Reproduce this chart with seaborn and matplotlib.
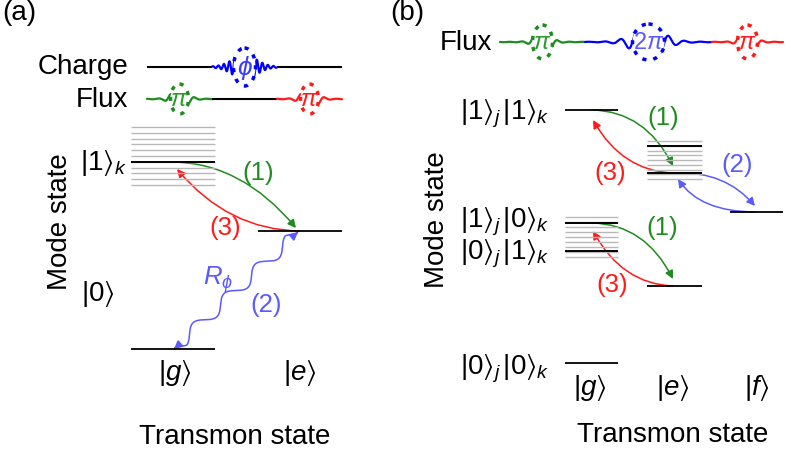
import numpy as np
import matplotlib
matplotlib.use('Agg')
import matplotlib.pyplot as plt
import seaborn as sns
from matplotlib.patches import FancyArrowPatch, Ellipse
from matplotlib.path import Path

sns.set_theme(style='white')
plt.rcParams['font.family'] = ['Liberation Sans', 'DejaVu Sans']
plt.rcParams['text.color'] = 'black'
plt.rcParams['mathtext.fontset'] = 'custom'
plt.rcParams['mathtext.rm'] = 'Liberation Sans'
plt.rcParams['mathtext.it'] = 'Liberation Sans:italic'
plt.rcParams['mathtext.fallback'] = 'stixsans'

# ---------------- content ----------------
panel_labels = ['(a)', '(b)']
axis_mode = 'Mode state'
axis_transmon = 'Transmon state'
a_drive_lines = ['Charge', 'Flux']
b_drive_line = 'Flux'
a_pulse_symbols = [r'$\phi$', r'$\pi$', r'$\pi$']
b_pulse_symbols = [r'$\pi$', r'$2\pi$', r'$\pi$']
a_transmon_states = [r'$|g\rangle$', r'$|e\rangle$']
a_mode_states = [r'$|1\rangle_k$', r'$|0\rangle$']
b_transmon_states = [r'$|g\rangle$', r'$|e\rangle$', r'$|f\rangle$']
b_mode_states = [r'$|1\rangle_j\,|1\rangle_k$', r'$|1\rangle_j\,|0\rangle_k$',
                 r'$|0\rangle_j\,|1\rangle_k$', r'$|0\rangle_j\,|0\rangle_k$']
step_labels = ['(1)', '(2)', '(3)']
rate_label = r'$R_\phi$'

GREEN = '#1e8c1e'
RED = '#ff1a1a'
BLUE = '#0000ff'
LBLUE = '#5a5aff'
GRAY = '#b8b8b8'

fig = plt.figure(figsize=(7.93, 4.56), dpi=100)
ax = fig.add_axes([0, 0, 1, 1])
ax.set_xlim(0, 793)
ax.set_ylim(456, 0)
ax.axis('off')

FS = 20
FSN = 18.5


def level(x0, x1, y, c='black', lw=1.3):
    ax.plot([x0, x1], [y, y], color=c, lw=lw, solid_capstyle='butt')


def manifold(x0, x1, ytop, ybot, n, blacks):
    for y in np.linspace(ytop, ybot, n):
        level(x0, x1, y, GRAY, 1.0)
    for y in blacks:
        level(x0, x1, y, 'black', 1.4)


def curve_arrow(p0, c, p1, color, style='-|>'):
    path = Path([p0, c, p1], [Path.MOVETO, Path.CURVE3, Path.CURVE3])
    ar = FancyArrowPatch(path=path, arrowstyle=style, mutation_scale=12,
                         color=color, lw=1.1, shrinkA=0, shrinkB=0)
    ax.add_patch(ar)


def wavy_arrow(p0, p1, color, periods=4.0, amp=6.0):
    p0 = np.array(p0, float); p1 = np.array(p1, float)
    d = p1 - p0
    L = np.hypot(*d)
    u = d / L
    nrm = np.array([-u[1], u[0]])
    t = np.linspace(0, 1, 300)
    env = np.clip(np.minimum(t, 1 - t) / 0.07, 0, 1)
    off = amp * env * np.sin(2 * np.pi * periods * t)
    pts = p0[None, :] + t[:, None] * d[None, :] + off[:, None] * nrm[None, :]
    codes = [Path.MOVETO] + [Path.LINETO] * (len(pts) - 1)
    ar = FancyArrowPatch(path=Path(pts, codes), arrowstyle='<|-|>',
                         mutation_scale=12, color=color, lw=1.1,
                         shrinkA=0, shrinkB=0)
    ax.add_patch(ar)


def pulse(x0, x1, yc, color, amp, period, width, sym, ew, eh, scol, fs=17):
    x = np.linspace(x0, x1, 600)
    xc = (x0 + x1) / 2
    env = np.exp(-((x - xc) / width) ** 2)
    y = yc - (amp * env + 1.5) * np.sin(2 * np.pi * (x - xc) / period) * (0.15 + 0.85 * env)
    ax.plot(x, y, color=color, lw=1.6)
    ax.add_patch(Ellipse((xc, yc), ew, eh, fill=True, fc='white', ec='none', zorder=3))
    ax.add_patch(Ellipse((xc, yc), ew, eh, fill=False, ec=color, lw=2.5,
                         ls=(0, (1.2, 2.0)), zorder=4))
    ax.text(xc, yc, sym, color=scol, fontsize=fs, ha='center', va='center', zorder=5)


# ---------------- panel (a) ----------------
ax.text(2, 13, panel_labels[0], fontsize=20, ha='left', va='center')
ax.text(128, 67, a_drive_lines[0], fontsize=FS, ha='right', va='center')
ax.text(128, 100, a_drive_lines[1], fontsize=FS, ha='right', va='center')
level(147, 212, 68, lw=1.5)
level(277, 342, 68, lw=1.5)
pulse(212, 277, 68, BLUE, 11, 5.5, 22, a_pulse_symbols[0], 22, 38, '#3c3cff', fs=19)
pulse(147, 212, 100, GREEN, 8, 12, 14, a_pulse_symbols[1], 18, 30, '#2a9a2a')
level(212, 277, 100, lw=1.5)
pulse(277, 342, 100, RED, 8, 12, 14, a_pulse_symbols[2], 18, 30, RED)

manifold(131, 215, 128, 186, 11, [163])
level(258, 342, 232)
level(131, 215, 350)

ax.text(127, 163, a_mode_states[0], fontsize=FS, ha='right', va='center')
ax.text(98, 294, a_mode_states[1], fontsize=FS, ha='center', va='center')
ax.text(175, 373, a_transmon_states[0], fontsize=FS, ha='center', va='center')
ax.text(300, 373, a_transmon_states[1], fontsize=FS, ha='center', va='center')
ax.text(60, 222, axis_mode, fontsize=FS, rotation=90, ha='center', va='center')
ax.text(235, 437, axis_transmon, fontsize=FS, ha='center', va='center')

curve_arrow((173, 163), (242, 164), (296, 229), GREEN)
curve_arrow((300, 232), (228, 231), (177, 170), RED)
wavy_arrow((174, 350), (298, 233), LBLUE)
ax.text(258, 173, step_labels[0], color=GREEN, fontsize=FSN, ha='center', va='center')
ax.text(225, 228, step_labels[2], color=RED, fontsize=FSN, ha='center', va='center')
ax.text(218, 280, rate_label, color=LBLUE, fontsize=FSN, ha='center', va='center')
ax.text(266, 305, step_labels[1], color=LBLUE, fontsize=FSN, ha='center', va='center')

# ---------------- panel (b) ----------------
ax.text(390, 13, panel_labels[1], fontsize=20, ha='left', va='center')
ax.text(492, 43, b_drive_line, fontsize=FS, ha='right', va='center')
pulse(500, 585, 43, GREEN, 8, 12, 14, b_pulse_symbols[0], 20, 34, '#2a9a2a')
pulse(585, 712, 43, BLUE, 13, 16, 28, b_pulse_symbols[1], 32, 36, LBLUE)
pulse(712, 783, 43, RED, 8, 12, 13, b_pulse_symbols[2], 20, 34, RED)

level(565, 618, 111)
manifold(647, 702, 142, 180, 9, [147, 174])
level(730, 783, 213)
manifold(565, 618, 218, 258, 9, [224, 252])
level(647, 702, 287)
level(565, 618, 364)

for s, y in zip(b_mode_states, [114, 222, 254, 369]):
    ax.text(549, y, s, fontsize=FS, ha='right', va='center')
for s, x in zip(b_transmon_states, [590, 673, 757]):
    ax.text(x, 388, s, fontsize=FS, ha='center', va='center')
ax.text(437, 220, axis_mode, fontsize=FS, rotation=90, ha='center', va='center')
ax.text(673, 435, axis_transmon, fontsize=FS, ha='center', va='center')

curve_arrow((592, 111), (645, 112), (673, 167), GREEN)
curve_arrow((673, 174), (622, 172), (593, 121), RED)
curve_arrow((676, 174), (725, 172), (755, 207), LBLUE)
curve_arrow((756, 213), (700, 213), (678, 180), LBLUE)
curve_arrow((592, 224), (645, 225), (673, 280), GREEN)
curve_arrow((673, 287), (622, 285), (593, 232), RED)

ax.text(663, 118, step_labels[0], color=GREEN, fontsize=FSN, ha='center', va='center')
ax.text(610, 173, step_labels[2], color=RED, fontsize=FSN, ha='center', va='center')
ax.text(737, 165, step_labels[1], color=LBLUE, fontsize=FSN, ha='center', va='center')
ax.text(662, 228, step_labels[0], color=GREEN, fontsize=FSN, ha='center', va='center')
ax.text(612, 285, step_labels[2], color=RED, fontsize=FSN, ha='center', va='center')

fig.savefig('out.png', dpi=100)
